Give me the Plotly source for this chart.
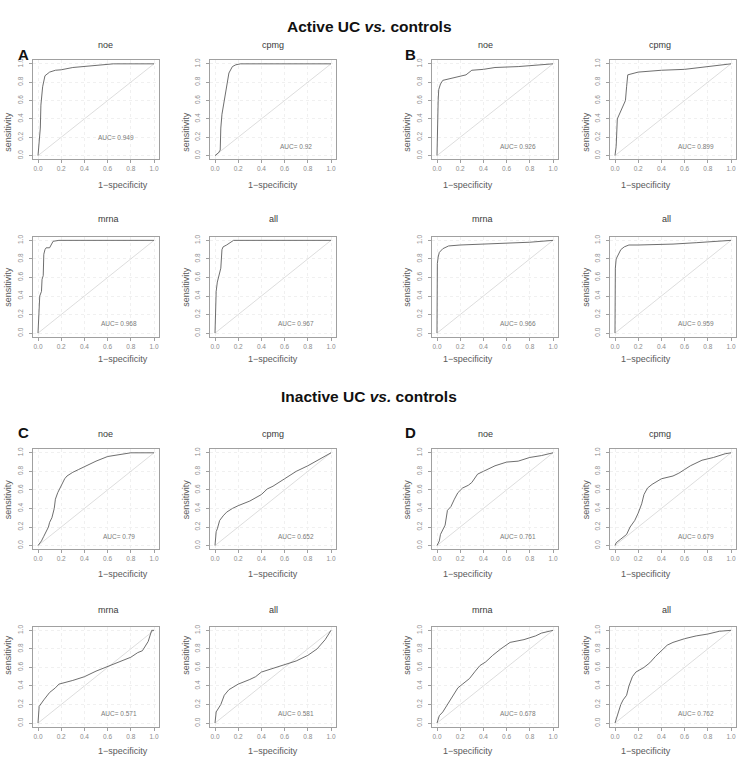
import plotly.graph_objects as go

# ---------------- data ----------------
a_noe_fpr = [0, 0.005, 0.01, 0.02, 0.025, 0.03, 0.04, 0.06, 0.08, 0.1, 0.15, 0.2, 0.3, 0.4, 0.5, 0.65, 1.0]
a_noe_tpr = [0, 0.1, 0.2, 0.3, 0.55, 0.6, 0.75, 0.87, 0.89, 0.91, 0.93, 0.935, 0.96, 0.97, 0.985, 1.0, 1.0]
a_cpmg_fpr = [0, 0.03, 0.045, 0.05, 0.06, 0.08, 0.1, 0.12, 0.15, 0.18, 0.22, 1.0]
a_cpmg_tpr = [0, 0.03, 0.06, 0.3, 0.45, 0.6, 0.75, 0.9, 0.97, 0.99, 1.0, 1.0]
a_mrna_fpr = [0, 0.005, 0.01, 0.015, 0.03, 0.035, 0.045, 0.05, 0.06, 0.07, 0.1, 0.11, 0.13, 0.18, 1.0]
a_mrna_tpr = [0, 0.1, 0.2, 0.4, 0.45, 0.58, 0.62, 0.85, 0.9, 0.92, 0.92, 0.95, 0.99, 1.0, 1.0]
a_all_fpr = [0, 0.003, 0.01, 0.02, 0.04, 0.05, 0.06, 0.07, 0.1, 0.12, 0.16, 1.0]
a_all_tpr = [0, 0.35, 0.45, 0.55, 0.65, 0.7, 0.9, 0.93, 0.95, 0.97, 1.0, 1.0]

b_noe_fpr = [0, 0.003, 0.01, 0.015, 0.03, 0.05, 0.1, 0.15, 0.2, 0.25, 0.3, 0.4, 0.5, 0.7, 1.0]
b_noe_tpr = [0, 0.5, 0.6, 0.72, 0.78, 0.82, 0.835, 0.845, 0.86, 0.88, 0.93, 0.94, 0.96, 0.97, 1.0]
b_cpmg_fpr = [0, 0.01, 0.02, 0.03, 0.05, 0.07, 0.09, 0.1, 0.11, 0.2, 0.4, 0.6, 0.8, 1.0]
b_cpmg_tpr = [0, 0.1, 0.4, 0.43, 0.5, 0.55, 0.6, 0.75, 0.88, 0.91, 0.93, 0.94, 0.97, 1.0]
b_mrna_fpr = [0, 0.003, 0.01, 0.02, 0.05, 0.1, 0.2, 0.4, 0.6, 0.8, 1.0]
b_mrna_tpr = [0, 0.75, 0.82, 0.87, 0.91, 0.94, 0.95, 0.96, 0.97, 0.98, 1.0]
b_all_fpr = [0, 0.003, 0.01, 0.03, 0.05, 0.08, 0.12, 0.2, 0.5, 0.7, 1.0]
b_all_tpr = [0, 0.7, 0.8, 0.85, 0.9, 0.93, 0.95, 0.95, 0.96, 0.975, 1.0]

c_noe_fpr = [0, 0.03, 0.05, 0.07, 0.09, 0.1, 0.12, 0.14, 0.15, 0.17, 0.2, 0.23, 0.25, 0.3, 0.35, 0.4, 0.45, 0.5, 0.6, 0.7, 0.8, 1.0]
c_noe_tpr = [0, 0.05, 0.1, 0.15, 0.2, 0.25, 0.3, 0.4, 0.5, 0.57, 0.65, 0.72, 0.75, 0.79, 0.82, 0.85, 0.88, 0.91, 0.96, 0.98, 1.0, 1.0]
c_cpmg_fpr = [0, 0.005, 0.01, 0.02, 0.04, 0.07, 0.1, 0.15, 0.2, 0.3, 0.4, 0.45, 0.5, 0.6, 0.7, 0.8, 0.9, 1.0]
c_cpmg_tpr = [0, 0.1, 0.15, 0.18, 0.27, 0.32, 0.36, 0.4, 0.43, 0.48, 0.55, 0.61, 0.64, 0.72, 0.8, 0.86, 0.93, 1.0]
c_mrna_fpr = [0, 0.005, 0.01, 0.05, 0.1, 0.15, 0.18, 0.3, 0.4, 0.5, 0.6, 0.7, 0.8, 0.86, 0.9, 0.95, 0.98, 1.0]
c_mrna_tpr = [0, 0.1, 0.18, 0.25, 0.33, 0.38, 0.42, 0.46, 0.5, 0.56, 0.61, 0.66, 0.71, 0.76, 0.78, 0.88, 1.0, 1.0]
c_all_fpr = [0, 0.005, 0.01, 0.05, 0.08, 0.12, 0.15, 0.2, 0.3, 0.35, 0.4, 0.5, 0.6, 0.7, 0.8, 0.88, 0.95, 1.0]
c_all_tpr = [0, 0.07, 0.12, 0.2, 0.3, 0.36, 0.38, 0.42, 0.47, 0.5, 0.55, 0.59, 0.63, 0.67, 0.73, 0.8, 0.9, 1.0]

d_noe_fpr = [0, 0.02, 0.03, 0.05, 0.07, 0.09, 0.12, 0.15, 0.18, 0.22, 0.27, 0.3, 0.35, 0.4, 0.5, 0.6, 0.7, 0.8, 0.9, 1.0]
d_noe_tpr = [0, 0.05, 0.12, 0.18, 0.22, 0.38, 0.42, 0.5, 0.57, 0.62, 0.65, 0.68, 0.77, 0.8, 0.86, 0.9, 0.91, 0.95, 0.97, 1.0]
d_cpmg_fpr = [0, 0.01, 0.05, 0.1, 0.13, 0.17, 0.2, 0.23, 0.25, 0.28, 0.32, 0.4, 0.5, 0.55, 0.6, 0.65, 0.75, 0.85, 0.95, 1.0]
d_cpmg_tpr = [0, 0.03, 0.07, 0.12, 0.2, 0.27, 0.35, 0.45, 0.55, 0.62, 0.66, 0.72, 0.75, 0.78, 0.82, 0.86, 0.92, 0.95, 0.99, 1.0]
d_mrna_fpr = [0, 0.02, 0.05, 0.08, 0.12, 0.15, 0.18, 0.22, 0.28, 0.33, 0.37, 0.42, 0.48, 0.55, 0.63, 0.75, 0.85, 0.9, 1.0]
d_mrna_tpr = [0, 0.08, 0.12, 0.18, 0.25, 0.32, 0.38, 0.42, 0.48, 0.56, 0.62, 0.66, 0.73, 0.8, 0.87, 0.9, 0.94, 0.97, 1.0]
d_all_fpr = [0, 0.01, 0.03, 0.05, 0.07, 0.1, 0.12, 0.15, 0.18, 0.25, 0.3, 0.35, 0.4, 0.45, 0.5, 0.6, 0.7, 0.8, 0.9, 1.0]
d_all_tpr = [0, 0.05, 0.12, 0.2, 0.25, 0.3, 0.4, 0.5, 0.55, 0.6, 0.65, 0.72, 0.78, 0.84, 0.87, 0.91, 0.94, 0.96, 0.99, 1.0]

auc_labels = {
    "a_noe": "AUC= 0.949", "a_cpmg": "AUC= 0.92", "a_mrna": "AUC= 0.968", "a_all": "AUC= 0.967",
    "b_noe": "AUC= 0.926", "b_cpmg": "AUC= 0.899", "b_mrna": "AUC= 0.966", "b_all": "AUC= 0.959",
    "c_noe": "AUC= 0.79", "c_cpmg": "AUC= 0.652", "c_mrna": "AUC= 0.571", "c_all": "AUC= 0.581",
    "d_noe": "AUC= 0.761", "d_cpmg": "AUC= 0.679", "d_mrna": "AUC= 0.678", "d_all": "AUC= 0.762",
}
tick_vals = [0, 0.2, 0.4, 0.6, 0.8, 1.0]
tick_text = ["0.0", "0.2", "0.4", "0.6", "0.8", "1.0"]

curves = {
    "a_noe": (a_noe_fpr, a_noe_tpr), "a_cpmg": (a_cpmg_fpr, a_cpmg_tpr),
    "a_mrna": (a_mrna_fpr, a_mrna_tpr), "a_all": (a_all_fpr, a_all_tpr),
    "b_noe": (b_noe_fpr, b_noe_tpr), "b_cpmg": (b_cpmg_fpr, b_cpmg_tpr),
    "b_mrna": (b_mrna_fpr, b_mrna_tpr), "b_all": (b_all_fpr, b_all_tpr),
    "c_noe": (c_noe_fpr, c_noe_tpr), "c_cpmg": (c_cpmg_fpr, c_cpmg_tpr),
    "c_mrna": (c_mrna_fpr, c_mrna_tpr), "c_all": (c_all_fpr, c_all_tpr),
    "d_noe": (d_noe_fpr, d_noe_tpr), "d_cpmg": (d_cpmg_fpr, d_cpmg_tpr),
    "d_mrna": (d_mrna_fpr, d_mrna_tpr), "d_all": (d_all_fpr, d_all_tpr),
}

# ---------------- layout geometry ----------------
W, H = 738, 757
COLS = [(38, 154), (215, 331), (437, 553), (615, 731)]     # pixel x of data 0 and 1
ROWS = [(154, 62), (332, 239), (545, 452), (723, 630)]     # pixel y of data 0 and 1
GRID = [["a_noe", "a_cpmg", "b_noe", "b_cpmg"],
        ["a_mrna", "a_all", "b_mrna", "b_all"],
        ["c_noe", "c_cpmg", "d_noe", "d_cpmg"],
        ["c_mrna", "c_all", "d_mrna", "d_all"]]
FONT = "Liberation Sans, Arial, sans-serif"

fig = go.Figure()
annotations = []
layout_axes = {}
k = 0
for r, row in enumerate(GRID):
    y0p, y1p = ROWS[r]
    ys = y0p - y1p
    top = y1p - 0.04 * ys
    bot = y0p + 0.04 * ys
    for c, key in enumerate(row):
        k += 1
        x0p, x1p = COLS[c]
        xs = x1p - x0p
        left = x0p - 0.04 * xs
        right = x1p + 0.04 * xs
        xa = "x" if k == 1 else f"x{k}"
        ya = "y" if k == 1 else f"y{k}"
        xname = "xaxis" if k == 1 else f"xaxis{k}"
        yname = "yaxis" if k == 1 else f"yaxis{k}"
        common = dict(range=[-0.04, 1.04], tickvals=tick_vals, ticktext=tick_text,
                      showline=True, linecolor="#a0a0a0", linewidth=1, mirror=True,
                      ticks="outside", ticklen=3, tickcolor="#a0a0a0", tickwidth=1,
                      showgrid=True, gridcolor="#f0f0f0", griddash="dot", gridwidth=1,
                      zeroline=False, fixedrange=True,
                      tickfont=dict(family=FONT, size=6.5, color="#8c8c8c"))
        layout_axes[xname] = dict(common, domain=[left / W, right / W], anchor=ya)
        layout_axes[yname] = dict(common, domain=[1 - bot / H, 1 - top / H], anchor=xa,
                                  tickangle=-90, ticklabelstandoff=4)
        # diagonal reference
        fig.add_trace(go.Scatter(x=[0, 1], y=[0, 1], mode="lines", xaxis=xa, yaxis=ya,
                                 line=dict(color="#d4d4d4", width=0.8), hoverinfo="skip",
                                 showlegend=False))
        fx, fy = curves[key]
        fig.add_trace(go.Scatter(x=fx, y=fy, mode="lines", xaxis=xa, yaxis=ya,
                                 line=dict(color="#5e5e5e", width=0.9), showlegend=False))
        # AUC text
        ax_x, ax_y = (0.67, 0.2) if key == "a_noe" else (0.7, 0.1)
        annotations.append(dict(x=ax_x, y=ax_y, xref=xa, yref=ya, text=auc_labels[key],
                                showarrow=False, font=dict(family=FONT, size=6.5, color="#7a7a7a")))
        # subplot title
        title_y = [43, 218, 433, 610][r]
        annotations.append(dict(x=(left + right) / 2 / W, y=1 - title_y / H, xref="paper", yref="paper",
                                text=key.split("_")[1], showarrow=False, yanchor="middle",
                                font=dict(family=FONT, size=9, color="#3a3a3a")))
        # x axis title
        xt_y = [183, 358, 574, 751][r]
        annotations.append(dict(x=(x0p + x1p) / 2 / W, y=1 - xt_y / H, xref="paper", yref="paper",
                                text="1\u2212specificity", showarrow=False, yanchor="middle",
                                font=dict(family=FONT, size=9, color="#5a5a5a")))
        # y axis title
        yt_x = [8, 186, 407, 586][c]
        annotations.append(dict(x=yt_x / W, y=1 - (y0p + y1p) / 2 / H, xref="paper", yref="paper",
                                text="sensitivity", showarrow=False, textangle=-90, xanchor="center",
                                font=dict(family=FONT, size=9, color="#5a5a5a")))

# main titles
annotations.append(dict(x=0.5, y=1 - 14 / H, xref="paper", yref="paper",
                        text="<b>Active UC <i>vs.</i> controls</b>", showarrow=False,
                        font=dict(family=FONT, size=15.5, color="#111111")))
annotations.append(dict(x=0.5, y=1 - 396 / H, xref="paper", yref="paper",
                        text="<b>Inactive UC <i>vs.</i> controls</b>", showarrow=False,
                        font=dict(family=FONT, size=15.5, color="#111111")))
# panel letters
for letter, px, py in [("A", 16, 42), ("B", 410, 42), ("C", 16, 432), ("D", 410, 432)]:
    annotations.append(dict(x=px / W, y=1 - py / H, xref="paper", yref="paper",
                            text=f"<b>{letter}</b>", showarrow=False,
                            font=dict(family=FONT, size=15, color="#111111")))

fig.update_layout(width=W, height=H, margin=dict(l=0, r=0, t=0, b=0),
                  paper_bgcolor="white", plot_bgcolor="white",
                  annotations=annotations, showlegend=False, **layout_axes)
fig.write_html("out.html", config={"displayModeBar": False},
               post_script="document.body.style.margin='0';document.body.style.overflow='hidden';")
